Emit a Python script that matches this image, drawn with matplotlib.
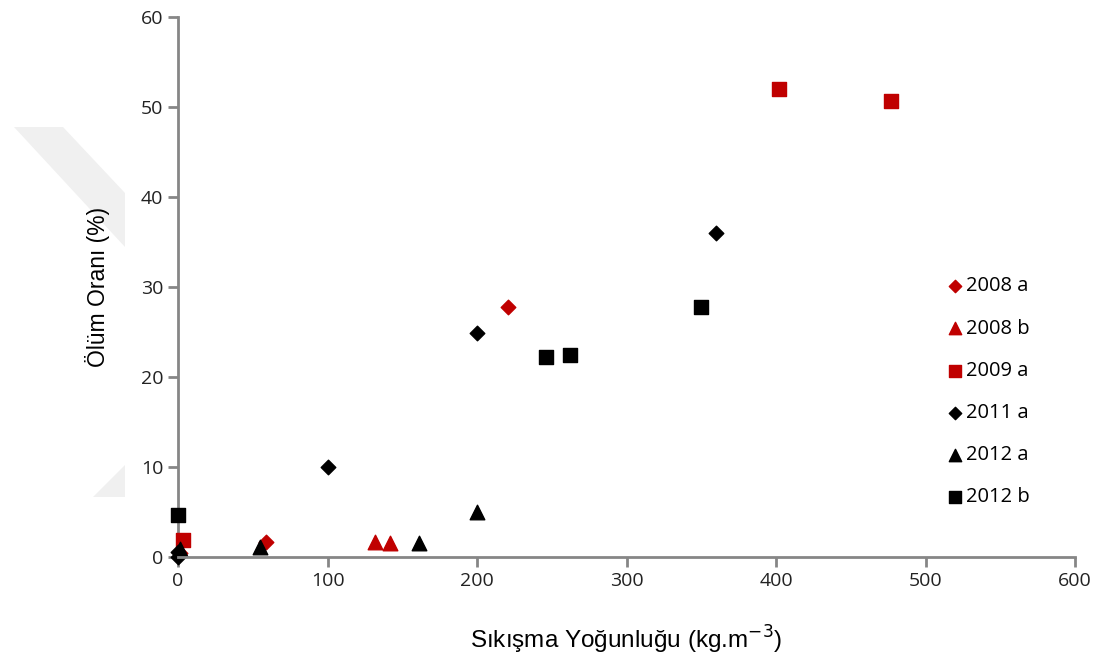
import matplotlib
matplotlib.use("Agg")
import matplotlib.pyplot as plt
from matplotlib.patches import Polygon

# Sıkışma yoğunluğu (kg/m3) ve ölüm oranı (%)
x_2008a = [1, 59, 221]
y_2008a = [0.4, 1.7, 27.8]
x_2008b = [132, 142]
y_2008b = [1.7, 1.5]
x_2009a = [3, 402, 477]
y_2009a = [1.9, 52.0, 50.7]
x_2011a = [0, 0, 100, 200, 360]
y_2011a = [0.0, 0.5, 10.0, 24.9, 36.0]
x_2012a = [1, 55, 161, 200]
y_2012a = [0.9, 1.1, 1.5, 5.0]
x_2012b = [0, 246, 262, 350]
y_2012b = [4.7, 22.2, 22.4, 27.8]

red = '#c00000'
black = '#000000'
gray = '#868686'

fig = plt.figure(figsize=(10.97, 6.63), dpi=100)
ax = fig.add_axes([0.1623, 0.1599, 0.8177, 0.8145])

# soluk filigran
W, H = 1097, 663
def fpoly(pts):
    return Polygon([(px / W, 1 - py / H) for px, py in pts], closed=True,
                   transform=fig.transFigure, facecolor='#f0f0f0',
                   edgecolor='none', zorder=-5)
fig.patches.append(fpoly([(14, 127), (63, 127), (125, 193), (125, 247)]))
fig.patches.append(fpoly([(93, 497), (125, 465), (125, 497)]))

ax.scatter(x_2008a, y_2008a, marker='D', s=55, color=red, label='2008 a', zorder=3)
ax.scatter(x_2008b, y_2008b, marker='^', s=110, color=red, label='2008 b', zorder=3)
ax.scatter(x_2009a, y_2009a, marker='s', s=100, color=red, label='2009 a', zorder=3)
ax.scatter(x_2011a, y_2011a, marker='D', s=55, color=black, label='2011 a', zorder=3)
ax.scatter(x_2012a, y_2012a, marker='^', s=110, color=black, label='2012 a', zorder=3)
ax.scatter(x_2012b, y_2012b, marker='s', s=100, color=black, label='2012 b', zorder=3)

ax.set_xlim(0, 600)
ax.set_ylim(0, 60)
ax.set_xticks(range(0, 601, 100))
ax.set_yticks(range(0, 61, 10))
for s in ['top', 'right']:
    ax.spines[s].set_visible(False)
for s in ['left', 'bottom']:
    ax.spines[s].set_color(gray)
    ax.spines[s].set_linewidth(2)
ax.spines['bottom'].set_zorder(4)
ax.tick_params(colors=gray, length=7, width=2, labelcolor='#222222',
               labelsize=14)
for lab in ax.get_xticklabels() + ax.get_yticklabels():
    lab.set_family('Open Sans')
for c in ax.collections:
    c.set_clip_on(False)

ax.set_xlabel('Sıkışma Yoğunluğu (kg.m$^{-3}$)', fontsize=17.5,
              family='Liberation Sans', labelpad=25)
ax.set_ylabel('Ölüm Oranı (%)', fontsize=16.5, family='Liberation Sans',
              labelpad=22)

leg = ax.legend(loc='upper left', bbox_to_anchor=(0.835, 0.553), frameon=False,
                prop={'family': 'Open Sans', 'size': 14.5}, labelspacing=1.1,
                handletextpad=0.05, handlelength=1.0, markerscale=0.85)
leg.set_zorder(-1)

fig.savefig('out.png', dpi=100)
